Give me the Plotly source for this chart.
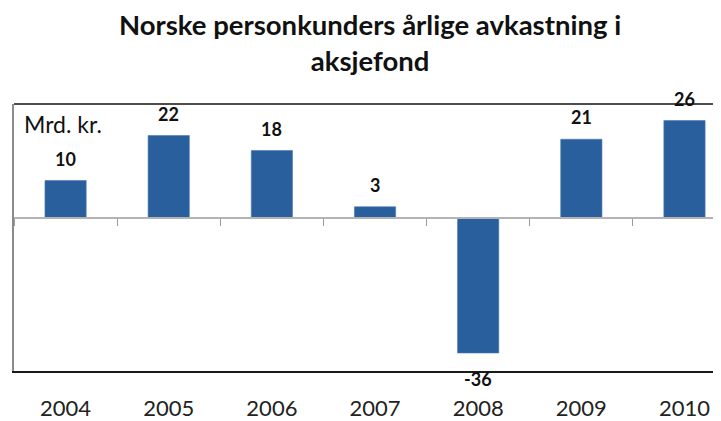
import plotly.graph_objects as go

years = ["2004", "2005", "2006", "2007", "2008", "2009", "2010"]
values = [10, 22, 18, 3, -36, 21, 26]
labels = ["10", "22", "18", "3", "-36", "21", "26"]

title_text = "Norske personkunders årlige avkastning i<br>aksjefond"
unit_text = "Mrd. kr."

BAR = "#2A5F9E"
FONT = "Lato"

y_min, y_max = -40.8, 30.4
x_range = [-0.5, 6.354]

# the page body has an 8px margin; figure is sized so the plot lands where the reference has it
W, H = 713, 413
M_L, M_T, M_B = 6, 96, 50
plot_h = H - M_T - M_B

fig = go.Figure()
fig.add_trace(go.Bar(
    x=list(range(len(years))), y=values, width=0.4,
    marker=dict(color=BAR, line=dict(color="#4A7BB5", width=0.6)),
    hoverinfo="skip", showlegend=False,
))
fig.add_trace(go.Scatter(x=list(range(len(years))), y=[0] * len(years), xaxis="x2",
                         mode="markers", marker=dict(opacity=0), hoverinfo="skip",
                         showlegend=False))
fig.add_trace(go.Scatter(x=[0], y=[0], xaxis="x3", mode="markers",
                         marker=dict(opacity=0), hoverinfo="skip", showlegend=False))

zero_pos = (0 - y_min) / (y_max - y_min)

for i, (v, t) in enumerate(zip(values, labels)):
    fig.add_annotation(
        x=i, y=v, text=t, showarrow=False, xref="x", yref="y",
        yanchor="bottom" if v >= 0 else "top",
        yshift=9 if v >= 0 else -13,
        font=dict(family=FONT, size=18, color="#111111", weight="bold"),
    )
fig.add_annotation(
    x=0.012, y=0.985, xref="paper", yref="paper", text=unit_text,
    showarrow=False, xanchor="left", yanchor="top",
    font=dict(family=FONT, size=23, color="#111111"),
)
fig.add_annotation(
    x=0.503, y=1 + (M_T + 2) / plot_h, xref="paper", yref="paper",
    yanchor="top", xanchor="center",
    text="<b>" + title_text + "</b>", showarrow=False,
    font=dict(family=FONT, size=27.5, color="#111111"), align="center",
)

fig.update_layout(
    width=W, height=H,
    margin=dict(l=M_L, r=0, t=M_T, b=M_B, autoexpand=False),
    plot_bgcolor="white", paper_bgcolor="white",
    xaxis=dict(
        range=x_range, tickmode="array", tickvals=list(range(len(years))),
        ticktext=years, showline=True, linecolor="#1a1a1a", linewidth=1.5,
        ticks="", showgrid=False, zeroline=False, ticklabelstandoff=17,
        automargin=False,
        tickfont=dict(family=FONT, size=22, color="#222222"),
    ),
    xaxis2=dict(
        range=x_range, overlaying="x", anchor="free", position=zero_pos,
        side="bottom", showline=True, linecolor="#b3b3b3", linewidth=1.5,
        tickmode="array", tickvals=[i + 0.5 for i in range(-1, len(years))],
        ticks="outside", ticklen=7, tickcolor="#9a9a9a", tickwidth=1,
        showticklabels=False, showgrid=False, zeroline=False, automargin=False,
    ),
    xaxis3=dict(
        range=x_range, overlaying="x", anchor="free", position=1, side="top",
        showline=True, linecolor="#4d4d4d", linewidth=1.5, automargin=False,
        showticklabels=False, ticks="", showgrid=False, zeroline=False,
    ),
    yaxis=dict(
        range=[y_min, y_max], showline=True, linecolor="#8c8c8c", linewidth=1.5,
        showticklabels=False, ticks="", showgrid=False, zeroline=False,
        automargin=False,
    ),
)

fig.write_html("out.html")
